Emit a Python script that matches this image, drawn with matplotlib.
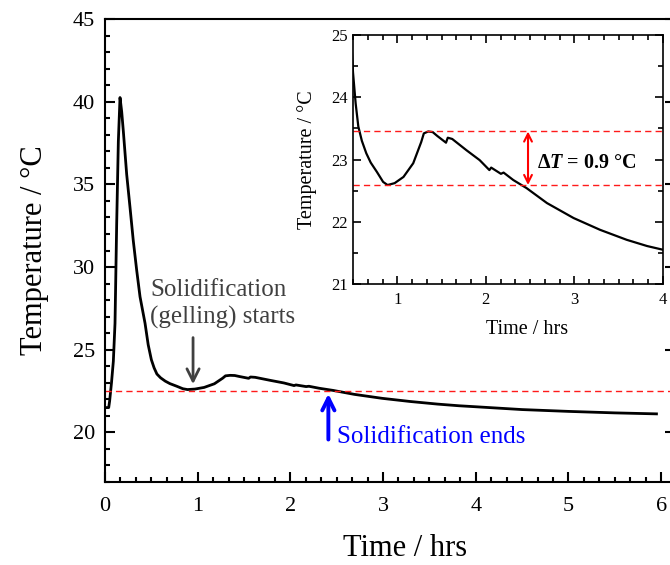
import matplotlib
matplotlib.use("Agg")
import matplotlib.pyplot as plt
from matplotlib.ticker import MultipleLocator

plt.rcParams['font.family'] = ['Liberation Serif', 'DejaVu Serif']
plt.rcParams['mathtext.fontset'] = 'custom'
plt.rcParams['mathtext.rm'] = 'Liberation Serif:bold'
plt.rcParams['mathtext.it'] = 'Liberation Serif:italic:bold'
plt.rcParams['mathtext.bf'] = 'Liberation Serif:bold'

# temperature log (hrs, degC)
time_hrs = [0.0, 0.04, 0.05, 0.07, 0.09, 0.108, 0.126, 0.144, 0.162, 0.18,
            0.198, 0.234, 0.27, 0.305, 0.342, 0.378, 0.432, 0.466, 0.5, 0.53,
            0.56, 0.6, 0.65, 0.7, 0.77, 0.84, 0.89, 0.97, 1.07, 1.18,
            1.27, 1.30, 1.35, 1.40, 1.45, 1.55, 1.57, 1.62, 1.78, 1.93,
            2.04, 2.06, 2.17, 2.20, 2.31, 2.46, 2.69, 2.99, 3.29, 3.59,
            3.82, 4.0, 4.5, 5.0, 5.5, 5.95]
temp_c = [21.5, 21.5, 21.9, 23.0, 24.3, 26.6, 32.6, 37.6, 40.25, 39.4,
          38.2, 35.6, 33.6, 31.6, 29.8, 28.2, 26.6, 25.3, 24.4, 23.9,
          23.53, 23.3, 23.1, 22.95, 22.8, 22.64, 22.59, 22.62, 22.72, 22.94,
          23.28, 23.42, 23.45, 23.44, 23.38, 23.27, 23.35, 23.33, 23.15, 22.99,
          22.83, 22.87, 22.77, 22.79, 22.67, 22.54, 22.30, 22.06, 21.87, 21.71,
          21.61, 21.55, 21.38, 21.27, 21.18, 21.12]

gel_start = 0.95
gel_end = 2.41
t_low = 22.59
t_high = 23.45
t_line_main = 22.5

fig = plt.figure(figsize=(6.7, 5.65), dpi=100)

# main plot
ax = fig.add_axes([105/670, 83/565, 570/670, 463/565])
ax.plot(time_hrs, temp_c, color='black', lw=2.0)
ax.axhline(t_line_main, color='#ff1a1a', lw=1.0, ls=(0, (4.5, 3)))
ax.set_xlim(0, 6.15)
ax.set_ylim(17, 45)
ax.xaxis.set_major_locator(MultipleLocator(1))
ax.xaxis.set_minor_locator(MultipleLocator(1/6))
ax.yaxis.set_major_locator(MultipleLocator(5))
ax.yaxis.set_minor_locator(MultipleLocator(1))
ax.tick_params(which='both', direction='in', top=False, right=False, width=1.5)
ax.tick_params(which='major', length=7, labelsize=16)
ax.tick_params(which='minor', length=3.5)
ax.tick_params(axis='y', which='major', pad=7)
ax.tick_params(axis='x', which='major', pad=11)
ax.tick_params(axis='y', which='major', right=True)
for s in ax.spines.values():
    s.set_linewidth(1.5)
ax.set_xlabel('Time / hrs', fontsize=22)
ax.set_ylabel('Temperature / °C', fontsize=22)
ax.xaxis.set_label_coords((405-105)/570, (482-548)/463)
ax.xaxis.label.set_va('center')
ax.yaxis.set_label_coords((35-105)/570, 0.5)
ax.yaxis.label.set_va('center')

ax.annotate('', xy=(gel_start, 22.75), xytext=(gel_start, 25.9),
            arrowprops=dict(arrowstyle='->', color='#404040', lw=2, mutation_scale=22))
ax.text(0.486, 27.75, 'Solidification\n(gelling) starts', color='#404040',
        fontsize=18, ha='left', va='center', linespacing=1.25)

ax.annotate('', xy=(gel_end, t_line_main), xytext=(gel_end, 19.4),
            arrowprops=dict(arrowstyle='->', color='#0000ff', lw=2.8, mutation_scale=22))
ax.text(2.5, 19.75, 'Solidification ends', color='#0000ff', fontsize=18,
        ha='left', va='center')

# inset
axi = fig.add_axes([353/670, 281/565, 310/670, 249/565])
axi.plot(time_hrs, temp_c, color='black', lw=1.6)
axi.axhline(t_high, color='#ff1a1a', lw=1.0, ls=(0, (4.5, 3)))
axi.axhline(t_low, color='#ff1a1a', lw=1.0, ls=(0, (4.5, 3)))
axi.annotate('', xy=(2.476, t_high), xytext=(2.476, t_low),
             arrowprops=dict(arrowstyle='<->', color='red', lw=1.5,
                             mutation_scale=14, shrinkA=0, shrinkB=0))
axi.text(2.58, 22.95, r'$\Delta T$ = 0.9 °C',
         fontsize=14.5, fontweight='bold', ha='left', va='center')
axi.set_xlim(0.5, 4)
axi.set_ylim(21, 25)
axi.xaxis.set_major_locator(MultipleLocator(1))
axi.xaxis.set_minor_locator(MultipleLocator(1/6))
axi.yaxis.set_major_locator(MultipleLocator(1))
axi.yaxis.set_minor_locator(MultipleLocator(0.5))
axi.tick_params(which='both', direction='in', top=True, right=True, width=1.2)
axi.tick_params(which='major', length=6, labelsize=12)
axi.tick_params(which='minor', length=3.5)
axi.tick_params(axis='y', which='major', pad=4)
axi.tick_params(axis='x', which='major', pad=6)
for s in axi.spines.values():
    s.set_linewidth(1.2)
axi.set_xlabel('Time / hrs', fontsize=14.5)
axi.set_ylabel('Temperature / °C', fontsize=14.5)
axi.xaxis.set_label_coords((527-353)/310, (284-330)/249)
axi.xaxis.label.set_va('center')
axi.yaxis.set_label_coords((307-353)/310, 0.5)
axi.yaxis.label.set_va('center')

fig.savefig('out.png', dpi=100)
